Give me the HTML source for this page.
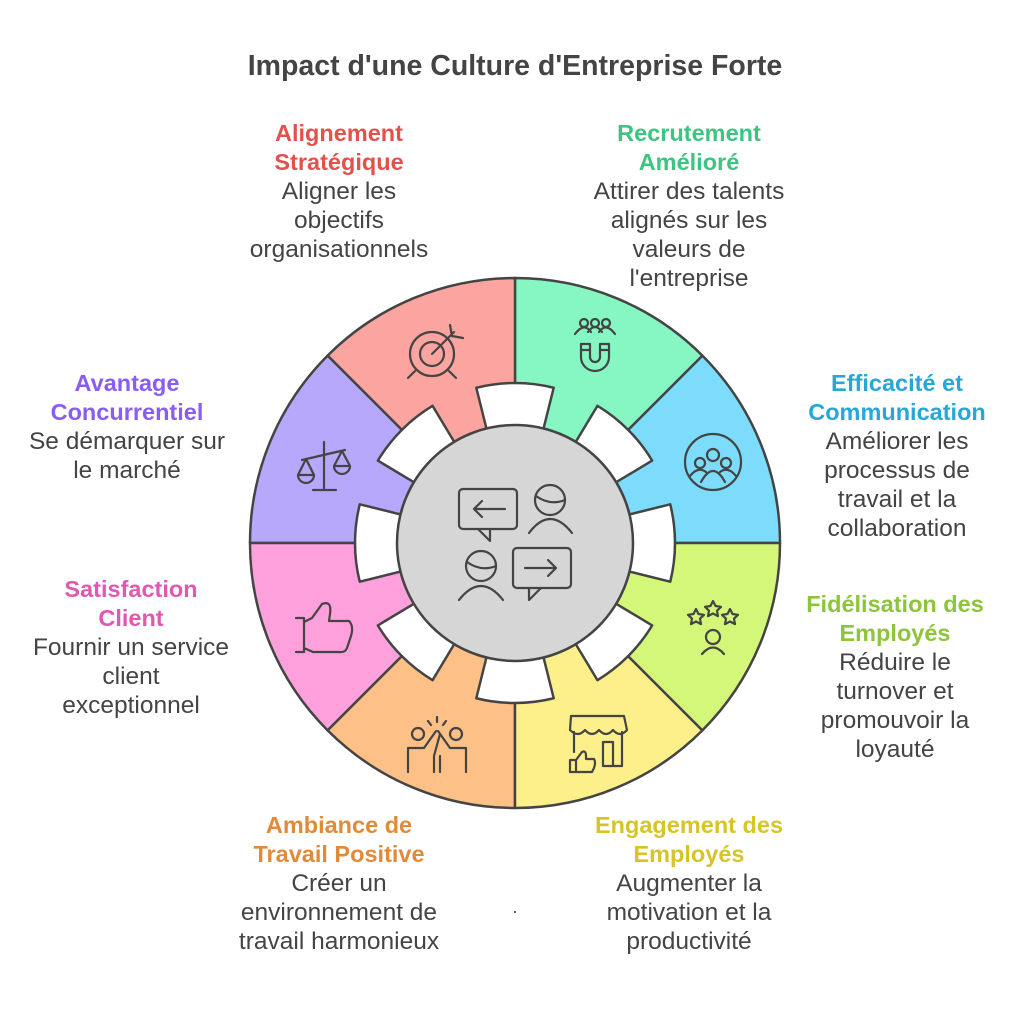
<!DOCTYPE html>
<html><head><meta charset="utf-8"><style>
body{margin:0;background:#fff;width:1024px;height:1017px;overflow:hidden;font-family:"Liberation Sans",sans-serif}
.t{position:absolute;text-align:center;font-size:24.5px;line-height:29px;color:#444;white-space:nowrap;transform:translateX(-50%)}
.t b{display:block;font-weight:bold;font-size:23.5px}
</style></head><body>
<div style="position:absolute;left:0;width:1030px;top:50px;text-align:center;font-weight:bold;font-size:28.5px;color:#444">Impact d'une Culture d'Entreprise Forte</div>
<div class="t" style="left:339px;top:119px"><b style="color:#e2524c">Alignement<br>Stratégique</b>Aligner les<br>objectifs<br>organisationnels</div>
<div class="t" style="left:689px;top:119px"><b style="color:#3cc481">Recrutement<br>Amélioré</b>Attirer des talents<br>alignés sur les<br>valeurs de<br>l'entreprise</div>
<div class="t" style="left:127px;top:369px"><b style="color:#8b5cf0">Avantage<br>Concurrentiel</b>Se démarquer sur<br>le marché</div>
<div class="t" style="left:897px;top:369px"><b style="color:#27a6d8">Efficacité et<br>Communication</b>Améliorer les<br>processus de<br>travail et la<br>collaboration</div>
<div class="t" style="left:131px;top:575px"><b style="color:#e058b0">Satisfaction<br>Client</b>Fournir un service<br>client<br>exceptionnel</div>
<div class="t" style="left:895px;top:590px"><b style="color:#8cc43a">Fidélisation des<br>Employés</b>Réduire le<br>turnover et<br>promouvoir la<br>loyauté</div>
<div class="t" style="left:339px;top:811px"><b style="color:#e08a3a">Ambiance de<br>Travail Positive</b>Créer un<br>environnement de<br>travail harmonieux</div>
<div class="t" style="left:689px;top:811px"><b style="color:#d6c42a">Engagement des<br>Employés</b>Augmenter la<br>motivation et la<br>productivité</div>
<div style="position:absolute;left:514px;top:911px;width:2px;height:2px;background:#666"></div>
<svg id="s" width="1024" height="1017" style="position:absolute;left:0;top:0" xmlns="http://www.w3.org/2000/svg">
<g id="sec"></g>
<circle cx="515" cy="543" r="118" fill="#d6d6d6" stroke="#444" stroke-width="2.5"/>
<g fill="none" stroke="#444" stroke-width="2.2" stroke-linecap="round" stroke-linejoin="round">
<rect x="459" y="489" width="58" height="40" rx="4"/><path d="M478 529 L490 541 L490 529"/><path d="M505 509 H474 M482 501 L474 509 L482 517"/>
<circle cx="550" cy="500" r="15"/><path d="M536 496 Q550 506 565 500"/><path d="M529 533 Q550 505 572 533"/>
<circle cx="481" cy="566" r="15"/><path d="M467 562 Q481 572 496 566"/><path d="M459 600 Q481 572 503 600"/>
<rect x="513" y="548" width="58" height="40" rx="4"/><path d="M529 588 L529 600 L541 588"/><path d="M525 568 H556 M548 560 L556 568 L548 576"/>
<circle cx="432" cy="354" r="22"/><circle cx="432" cy="354" r="12"/><path d="M432 354 L454 332 M450 325 L452 336 L463 338 M415 371 L408 378 M449 371 L456 378"/>
<path d="M581 344 V357 A14 14 0 0 0 609 357 V344 H600 V357 A5 5 0 0 1 590 357 V344 Z M581 350 H590 M600 350 H609"/>
<circle cx="584" cy="323" r="4"/><circle cx="595" cy="323" r="4"/><circle cx="606" cy="323" r="4"/><path d="M575 334 Q584 322 591 332 M588 332 Q595 322 602 332 M599 332 Q606 322 615 334"/>
<circle cx="713" cy="462" r="28"/><circle cx="713" cy="455" r="6"/><circle cx="700" cy="463" r="5"/><circle cx="726" cy="463" r="5"/><path d="M701 482 Q713 460 725 482 M690 476 Q698 466 706 472 M720 472 Q728 466 736 476"/>
<path d="M324 442 V490 M313 490 H336 M302 460 L345 450 M306 459 L298 475 M306 459 L314 475 M298 475 A8 8 0 0 0 314 475 Z M342 451 L334 466 M342 451 L350 466 M334 466 A8 8 0 0 0 350 466 Z"/>
<path d="M296 618 H304 V652 H296 M304 622 L312 618 L322 604 Q332 600 330 614 L329 621 H349 Q354 626 351 636 L347 648 Q345 653 339 652 H313 L304 648"/>
<circle cx="418" cy="734" r="6"/><circle cx="456" cy="734" r="6"/><path d="M408 772 V748 H424 L436 731 M434 772 V756 L440 734 M466 772 V748 H450 L438 731 M440 772 V756 M437 717 V722 M428 721 L431 725 M446 721 L443 725"/>
<path d="M571 716 H624 L627 730 Q620 738 613 730 Q606 738 599 730 Q592 738 585 730 Q578 738 570 730 Z M574 732 V752 M622 732 V766 H603 V742 H613 V766"/><path d="M570 760 H576 V772 H570 Z M576 760 L582 752 Q586 750 586 756 V759 H594 Q596 762 594 768 L592 772 H576"/>
<path d="M713 601 l2.5 5 5.5 .8 -4 3.9 1 5.4 -5 -2.6 -5 2.6 1 -5.4 -4 -3.9 5.5 -.8z M696 609 l2.5 5 5.5 .8 -4 3.9 1 5.4 -5 -2.6 -5 2.6 1 -5.4 -4 -3.9 5.5 -.8z M730 609 l2.5 5 5.5 .8 -4 3.9 1 5.4 -5 -2.6 -5 2.6 1 -5.4 -4 -3.9 5.5 -.8z"/>
<circle cx="713" cy="637" r="7"/><path d="M702 654 Q713 641 724 654"/>
</g>
</svg>
<script>
var cx=515,cy=543,R=265,T=160,I=118,w=14;
var cols=["#7ddcfb","#86f7c3","#fca5a0","#b8a8fb","#fda0dc","#fdc087","#fdf08a","#d4f77a"];
function P(r,a){a=a*Math.PI/180;return (cx+r*Math.cos(a)).toFixed(2)+" "+(cy-r*Math.sin(a)).toFixed(2);}
var h="";
for(var k=0;k<8;k++){var a1=k*45,a2=a1+45;
var d="M"+P(R,a1)+" A"+R+" "+R+" 0 0 0 "+P(R,a2)+" L"+P(T,a2)+" A"+T+" "+T+" 0 0 1 "+P(T,a2-w)+" L"+P(I,a2-w)+" A"+I+" "+I+" 0 0 1 "+P(I,a1+w)+" L"+P(T,a1+w)+" A"+T+" "+T+" 0 0 1 "+P(T,a1)+" Z";
h+='<path d="'+d+'" fill="'+cols[k]+'" stroke="#444" stroke-width="2.5" stroke-linejoin="round"/>';}
document.getElementById("sec").innerHTML=h;
</script>
</body></html>
